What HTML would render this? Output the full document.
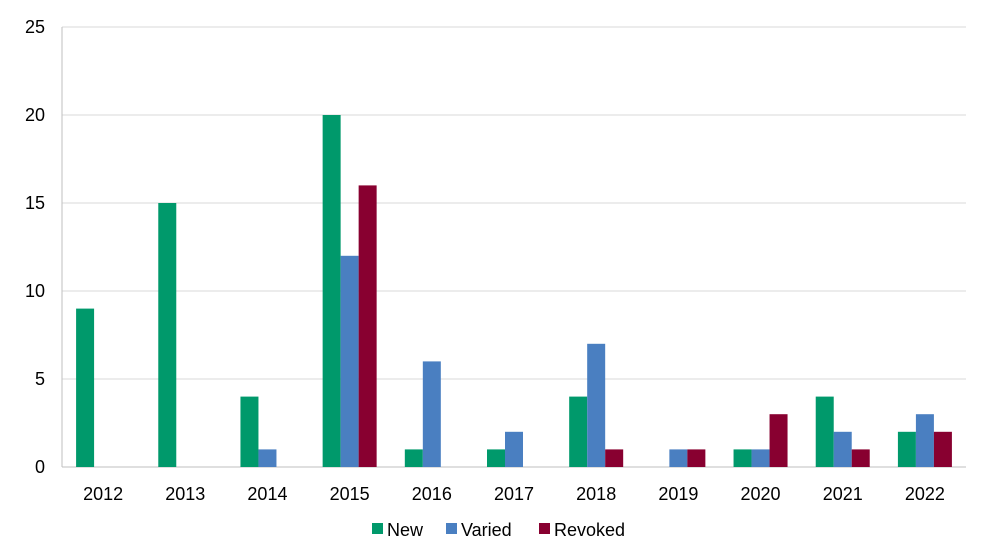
<!DOCTYPE html>
<html><head><meta charset="utf-8"><style>
body{margin:0;background:#fff;font-family:"Liberation Sans",Arial,sans-serif}
svg text{font-family:"Liberation Sans",Arial,sans-serif;fill:#000}
</style></head><body>
<svg id="chart" width="990" height="555" xmlns="http://www.w3.org/2000/svg"></svg>
<script>
const categories=["2012","2013","2014","2015","2016","2017","2018","2019","2020","2021","2022"];
const newVals=[9,15,4,20,1,1,4,0,1,4,2];
const variedVals=[0,0,1,12,6,2,7,1,1,2,3];
const revokedVals=[0,0,0,16,0,0,1,1,3,1,2];
const yTicks=[0,5,10,15,20,25];
const seriesNames=["New","Varied","Revoked"];
const colors=["#00996b","#4a7fc1","#880030"];
const svg=document.getElementById('chart');
const NS="http://www.w3.org/2000/svg";
const L=62,R=966,T=27,B=467,yMax=25;
const y=v=>B-(v/yMax)*(B-T);
const band=(R-L)/categories.length;
const bw=18;
function mk(tag,attrs,txt){const e=document.createElementNS(NS,tag);for(const k in attrs)e.setAttribute(k,attrs[k]);if(txt!==undefined)e.textContent=txt;svg.appendChild(e);return e;}
yTicks.forEach(t=>{
  const g=mk('line',{x1:L,x2:R,y1:y(t),y2:y(t),stroke:t===0?'#bfbfbf':'#d9d9d9','stroke-width':1});
  
  
  const tx=mk('text',{x:45,y:y(t)+6,'text-anchor':'end','font-size':18},t);
  
  
});
const ax=mk('line',{x1:L,x2:L,y1:T,y2:B,stroke:'#bfbfbf'});


const series=[newVals,variedVals,revokedVals];
categories.forEach((c,i)=>{
  const cx=L+band*(i+0.5);
  series.forEach((s,j)=>{
    if(s[i]<=0)return;
    const r=mk('rect',{x:cx-1.5*bw+j*bw,y:y(s[i]),width:bw,height:B-y(s[i]),fill:colors[j]});
    
    
  });
  const t=mk('text',{x:cx,y:500,'text-anchor':'middle','font-size':18},c);
  
  
});
const lx=[372,446,539];
seriesNames.forEach((n,j)=>{
  const r=mk('rect',{x:lx[j],y:523,width:11,height:11,fill:colors[j]});
  
  
  const t=mk('text',{x:lx[j]+15,y:536,'font-size':18},n);
  
  
});
</script>
</body></html>
